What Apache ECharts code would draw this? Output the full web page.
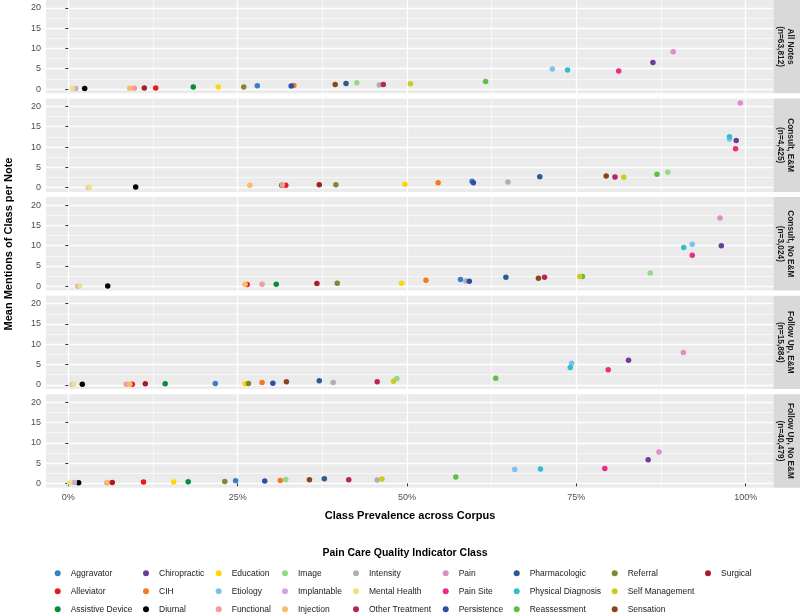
<!DOCTYPE html>
<html><head><meta charset="utf-8">
<script src="https://cdn.jsdelivr.net/npm/echarts@6/dist/echarts.min.js"></script>
<style>html,body{margin:0;padding:0;background:#fff}#c{width:800px;height:614px}</style>
</head><body><div id="c"></div>
<script>
// ---- data ----
const classes = ['Aggravator','Alleviator','Assistive Device','Chiropractic','CIH','Diurnal','Education','Etiology','Functional','Image','Implantable','Injection','Intensity','Mental Health','Other Treatment','Pain','Pain Site','Persistence','Pharmacologic','Physical Diagnosis','Reassessment','Referral','Self Management','Sensation','Surgical'];
const classColors = ['#3A7DC9','#E8191C','#0A8A3A','#6A3D9A','#F47A20','#000000','#FFD700','#7BC3EE','#F59A9A','#96D88A','#CBAADB','#FDB96B','#B0B0B0','#EDE37E','#B6245E','#DF8CC8','#EE2A84','#2E4EA6','#2B5C8F','#2EC0CC','#5EBE45','#848431','#CCCC1E','#8A4519','#A71D25'];
const panelLabels = ['All Notes\n(n=63,812)','Consult, E&M\n(n=4,425)','Consult, No E&M\n(n=3,024)','Follow Up, E&M\n(n=15,884)','Follow Up, No E&M\n(n=40,479)'];
const xTickValues = [0,25,50,75,100];
const xMinorValues = [12.5,37.5,62.5,87.5];
const yTickValues = [0,5,10,15,20];
const yMinorValues = [2.5,7.5,12.5,17.5];

// prevalence (%) and mean mentions, in class order
const allNotesX = [27.9,12.9,18.45,86.3,33.3,2.42,22.14,71.45,9.75,42.6,1.09,9.06,45.9,0.59,46.5,89.3,81.25,32.9,41.0,73.7,61.6,25.9,50.5,39.4,11.22];
const allNotesY = [0.81,0.25,0.49,6.55,0.9,0.15,0.49,4.93,0.2,1.55,0.15,0.2,0.98,0.15,1.13,9.19,4.43,0.74,1.38,4.67,1.87,0.49,1.3,1.13,0.25];
const consultEMX = [59.6,32.1,31.5,98.6,54.6,9.95,49.7,97.6,31.6,88.5,3.0,26.8,64.9,3.1,80.7,99.2,98.5,59.8,69.6,97.6,86.9,39.5,82.0,79.4,37.05];
const consultEMY = [1.55,0.57,0.6,11.58,1.23,0.15,0.81,11.98,0.64,3.77,0.05,0.57,1.38,0.07,2.61,20.84,9.6,1.23,2.71,12.56,3.28,0.74,2.54,2.86,0.74];
const consultNoEMX = [57.9,26.4,30.7,96.4,52.8,5.82,49.2,92.1,28.6,85.9,1.43,26.1,58.7,1.68,70.3,96.2,92.1,59.2,64.6,90.85,75.9,39.7,75.5,69.4,36.7];
const consultNoEMY = [1.65,0.45,0.49,10.0,1.48,0.08,0.74,10.34,0.49,3.28,0.0,0.49,1.31,0.0,2.22,16.8,7.64,1.23,2.22,9.53,2.38,0.74,2.38,1.97,0.66];
const followEMX = [21.7,9.45,14.3,82.7,28.6,2.07,26.1,74.3,8.56,48.5,0.6,9.1,39.1,0.79,45.6,90.8,79.7,30.2,37.05,74.1,63.1,26.6,48.0,32.2,11.37];
const followEMY = [0.32,0.15,0.25,6.06,0.57,0.15,0.25,5.32,0.15,1.55,0.1,0.15,0.57,0.15,0.74,7.96,3.69,0.4,0.98,4.26,1.63,0.32,0.89,0.74,0.25];
const followNoEMX = [24.7,11.1,17.7,85.6,31.3,1.53,15.56,65.9,5.7,32.1,0.89,5.86,45.6,0.2,41.4,87.2,79.2,29.0,37.8,69.7,57.2,23.1,46.3,35.6,6.5];
const followNoEMY = [0.66,0.33,0.41,5.84,0.74,0.17,0.33,3.45,0.18,0.99,0.2,0.2,0.83,0.17,0.91,7.73,3.69,0.58,1.16,3.55,1.58,0.49,1.08,0.91,0.2];

const panelX = [allNotesX, consultEMX, consultNoEMX, followEMX, followNoEMX];
const panelY = [allNotesY, consultEMY, consultNoEMY, followEMY, followNoEMY];

// ---- layout ----
const FONT = '"Liberation Sans", Arial, Helvetica, sans-serif';
const PL = 46, PR = 773.5, PH = 93.4, STEP = 98.6, T0 = -0.1;
const grids = [], xAxes = [], yAxes = [], series = [], graphics = [];
const xMin = -3.29, xMax = 104.1, yMin = -1.05, yMax = 21.95;

for (let p = 0; p < 5; p++) {
  const top = T0 + STEP * p;
  const last = p === 4;
  grids.push({left: PL, top: top, width: PR - PL, height: PH, show: true, backgroundColor: '#EBEBEB', borderWidth: 0, containLabel: false, outerBoundsMode: 'none'});
  xAxes.push({type: 'value', gridIndex: p, min: xMin, max: xMax,
    axisLine: {show: false},
    axisTick: {show: last, length: 3, customValues: xTickValues, lineStyle: {color: '#333333', width: 1}},
    axisLabel: {show: last, customValues: xTickValues, formatter: v => v + '%', color: '#4D4D4D', fontSize: 9, margin: 5, fontFamily: FONT},
    splitLine: {show: true, lineStyle: {color: '#FFFFFF', width: 1.3}}});
  yAxes.push({type: 'value', gridIndex: p, min: yMin, max: yMax,
    axisLine: {show: false},
    axisTick: {show: true, length: 3, customValues: yTickValues, lineStyle: {color: '#333333', width: 1}},
    axisLabel: {show: true, customValues: yTickValues, color: '#4D4D4D', fontSize: 9, margin: 5, fontFamily: FONT},
    splitLine: {show: true, lineStyle: {color: '#FFFFFF', width: 1.3}}});
}
for (let p = 0; p < 5; p++) {
  xAxes.push({type: 'value', gridIndex: p, min: xMin, max: xMax, position: 'bottom',
    axisLine: {show: false}, axisLabel: {show: false},
    axisTick: {show: false, customValues: xMinorValues},
    splitLine: {show: true, lineStyle: {color: '#FFFFFF', width: 0.6}}});
  yAxes.push({type: 'value', gridIndex: p, min: yMin, max: yMax, position: 'left',
    axisLine: {show: false}, axisLabel: {show: false},
    axisTick: {show: false, customValues: yMinorValues},
    splitLine: {show: true, lineStyle: {color: '#FFFFFF', width: 0.6}}});
}

for (let p = 0; p < 5; p++) {
  for (let c = 0; c < classes.length; c++) {
    series.push({type: 'scatter', name: classes[c], xAxisIndex: p, yAxisIndex: p,
      data: [[panelX[p][c], panelY[p][c]]], symbol: 'circle', symbolSize: 5.5,
      itemStyle: {color: classColors[c], opacity: 1}, emphasis: {disabled: true}, z: 3});
  }
  const top = T0 + STEP * p;
  graphics.push({type: 'rect', z: 10, shape: {x: PR, y: top, width: 800 - PR, height: PH}, style: {fill: '#D9D9D9'}});
  graphics.push({type: 'text', z: 11, x: 785.5, y: top + PH / 2, rotation: -Math.PI / 2,
    style: {text: panelLabels[p], fill: '#1A1A1A', font: 'bold 8.3px ' + FONT, align: 'center', verticalAlign: 'middle', lineHeight: 10.5}});
}

graphics.push({type: 'text', x: 9, y: 244, rotation: Math.PI / 2,
  style: {text: 'Mean Mentions of Class per Note', fill: '#000000', font: 'bold 11px ' + FONT, align: 'center', verticalAlign: 'middle'}});
graphics.push({type: 'text', x: 410, y: 516,
  style: {text: 'Class Prevalence across Corpus', fill: '#000000', font: 'bold 11px ' + FONT, align: 'center', verticalAlign: 'middle'}});
graphics.push({type: 'text', x: 405, y: 553,
  style: {text: 'Pain Care Quality Indicator Class', fill: '#000000', font: 'bold 10.5px ' + FONT, align: 'center', verticalAlign: 'middle'}});

// legend: 9 columns, column-major, 3 rows
const legendDotX = [62.7, 151, 223.7, 290, 361, 450.7, 521.7, 619.7, 713];
const legends = [];
for (let col = 0; col < 9; col++) {
  const items = classes.slice(col * 3, col * 3 + 3);
  legends.push({type: 'plain', orient: 'vertical', left: legendDotX[col] - 8, top: 568.8, height: 80, width: 120,
    itemWidth: 16, itemHeight: 6, itemGap: 9, icon: 'circle', padding: 0, data: items,
    textStyle: {fontSize: 8.5, color: '#1A1A1A', fontFamily: FONT, lineHeight: 8}});
}

const chart = echarts.init(document.getElementById('c'), null, {renderer: 'canvas'});
chart.setOption({
  animation: false,
  backgroundColor: '#FFFFFF',
  grid: grids, xAxis: xAxes, yAxis: yAxes, series: series,
  legend: legends, graphic: graphics
});
</script></body></html>
